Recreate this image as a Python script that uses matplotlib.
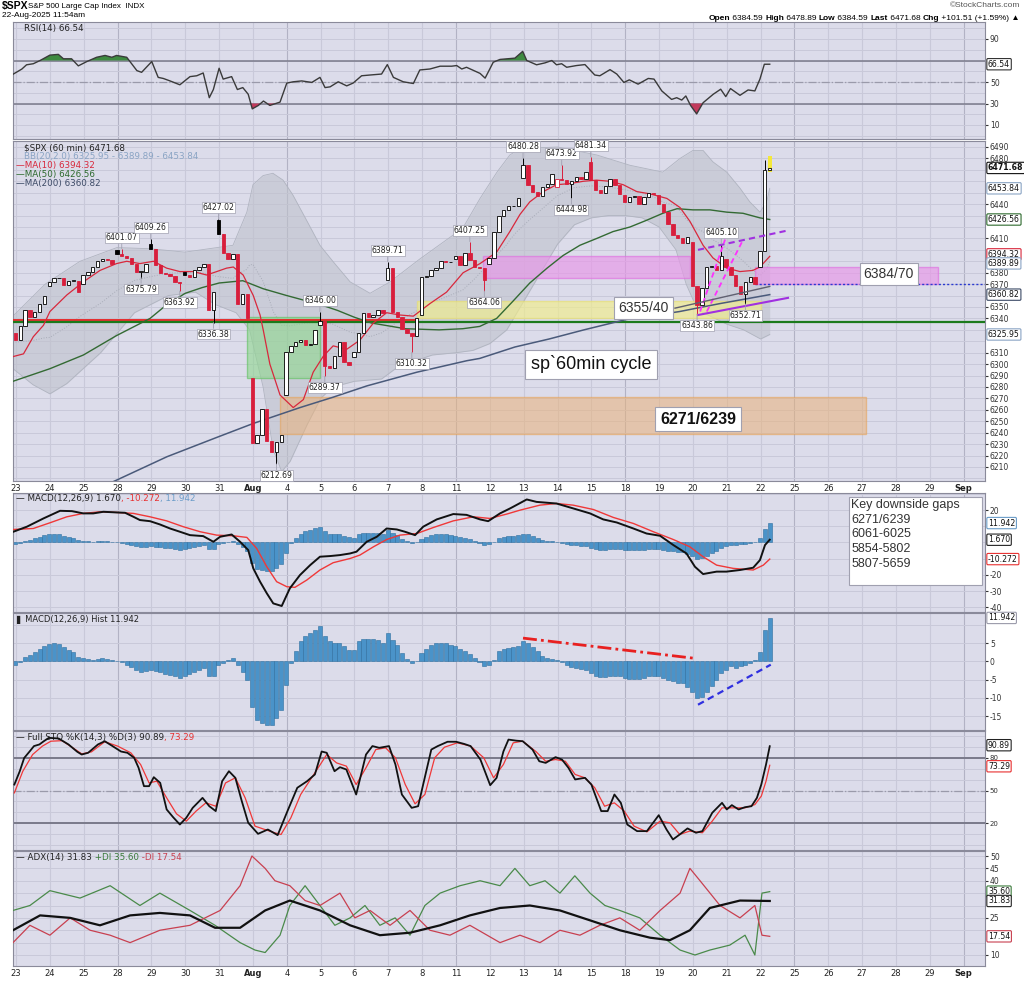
import matplotlib
matplotlib.use('Agg')
import matplotlib.pyplot as plt
from matplotlib.patches import Rectangle
from matplotlib.text import Annotation
import numpy as np

plt.rcParams['font.family'] = ['DejaVu Sans']

# ---------------- data ----------------
day_labels = ['23', '24', '25', '28', '29', '30', '31', 'Aug', '4', '5', '6', '7', '8', '11',
              '12', '13', '14', '15', '18', '19', '20', '21', '22', '25', '26', '27', '28', '29', 'Sep']
week_starts = [3, 8, 13, 18, 23, 28]

# hourly candles: open of the first bar of each day, then the 7 hourly closes
day_open = [6327, 6368, 6370, 6400, 6405, 6381, 6426, 6288, 6273, 6334, 6306, 6374, 6343,
            6392, 6388, 6463, 6455, 6477, 6448, 6448, 6407, 6392, 6384.59]
closes = [
    [6321, 6333, 6347, 6341, 6346, 6353, 6360],   # Jul 23
    [6372, 6375, 6375, 6369, 6373, 6373, 6363],   # Jul 24
    [6378, 6381, 6385, 6390, 6392, 6391, 6388],   # Jul 25
    [6396, 6395, 6393, 6388, 6381, 6381, 6388],   # Jul 28
    [6401, 6387, 6380, 6379, 6377, 6372, 6371],   # Jul 29
    [6378, 6376, 6382, 6385, 6388, 6347, 6363],   # Jul 30
    [6414, 6397, 6392, 6396, 6353, 6361, 6340],   # Jul 31
    [6231, 6238, 6261, 6233, 6223, 6232, 6238],   # Aug 1
    [6311, 6316, 6319, 6321, 6317, 6318, 6330],   # Aug 4
    [6338, 6298, 6297, 6307, 6319, 6302, 6299],   # Aug 5
    [6311, 6327, 6345, 6341, 6343, 6347, 6345],   # Aug 6
    [6384, 6346, 6341, 6331, 6327, 6325, 6340],   # Aug 7
    [6376, 6377, 6382, 6384, 6390, 6389, 6389],   # Aug 8
    [6395, 6387, 6397, 6391, 6385, 6384, 6374],   # Aug 11
    [6393, 6416, 6430, 6435, 6438, 6438, 6445],   # Aug 12
    [6474, 6457, 6451, 6447, 6455, 6458, 6466],   # Aug 13
    [6462, 6461, 6458, 6460, 6464, 6462, 6468],   # Aug 14
    [6461, 6452, 6450, 6456, 6462, 6457, 6449],   # Aug 15
    [6442, 6446, 6447, 6440, 6446, 6450, 6449],   # Aug 18
    [6440, 6433, 6423, 6413, 6410, 6406, 6411],   # Aug 19
    [6368, 6352, 6367, 6385, 6386, 6382, 6395],   # Aug 20
    [6385, 6378, 6368, 6361, 6372, 6376, 6370],   # Aug 21
    [6399, 6470, 6471.68],                        # Aug 22
]
# labelled highs / lows: (day, hour, value, kind)
extremes = [(3, 1, 6401.07, 'h'), (4, 0, 6409.26, 'h'), (3, 5, 6375.79, 'l'), (4, 6, 6363.92, 'l'),
            (6, 0, 6427.02, 'h'), (5, 6, 6336.38, 'l'), (9, 0, 6346.00, 'h'), (9, 1, 6289.37, 'l'),
            (7, 5, 6212.69, 'l'), (11, 0, 6389.71, 'h'), (11, 5, 6310.32, 'l'), (13, 3, 6407.25, 'h'),
            (13, 6, 6364.06, 'l'), (15, 0, 6480.28, 'h'), (16, 1, 6473.92, 'h'), (16, 3, 6444.98, 'l'),
            (17, 0, 6481.34, 'h'), (20, 6, 6405.10, 'h'), (20, 1, 6343.86, 'l'), (21, 4, 6352.71, 'l')]
session_high = (22, 1, 6478.89)

# overlay lines, (day position, value)
ma10 = [(-0.09, 6306.6), (0.22, 6309), (0.51, 6324), (0.81, 6334), (1.0, 6346), (1.5, 6360.5),
        (1.99, 6372), (2.48, 6382), (2.97, 6388), (3.27, 6390), (3.66, 6388), (4.06, 6390),
        (4.45, 6384), (4.84, 6381), (5.24, 6381), (5.63, 6378), (5.93, 6381), (6.22, 6384),
        (6.42, 6385), (6.71, 6378), (7.01, 6360), (7.21, 6343), (7.31, 6329), (7.5, 6300),
        (7.8, 6273), (8.19, 6262), (8.49, 6269), (8.78, 6293), (9.08, 6307), (9.37, 6316),
        (9.77, 6313), (10.16, 6321), (10.56, 6336), (10.95, 6345), (11.34, 6343), (11.74, 6342),
        (12.23, 6353), (12.72, 6363), (13.21, 6380), (13.71, 6388), (14.2, 6398), (14.59, 6416),
        (14.89, 6431), (15.18, 6442), (15.58, 6451), (15.97, 6457), (16.37, 6458), (16.76, 6460),
        (17.15, 6461), (17.55, 6460), (17.94, 6457), (18.34, 6451), (18.73, 6449), (19.23, 6445),
        (19.62, 6437), (19.91, 6425), (20.3, 6404), (20.59, 6393), (21.0, 6384), (21.39, 6381),
        (21.77, 6382), (21.98, 6385), (22.27, 6394.32)]
ma50 = [(-0.09, 6285), (1.0, 6296), (1.99, 6308), (2.97, 6325), (3.96, 6340), (4.45, 6352),
        (5.0, 6362), (5.5, 6367), (6.0, 6371), (6.7, 6373), (7.3, 6366), (8.0, 6360), (8.5, 6356),
        (9.0, 6352), (9.5, 6347), (10.0, 6341), (10.5, 6336), (11.5, 6331), (12.5, 6330),
        (13.2, 6331), (13.7, 6333), (14.2, 6340), (14.68, 6355), (15.18, 6371), (15.69, 6384),
        (16.16, 6395), (16.66, 6404), (17.16, 6410), (17.64, 6416), (18.14, 6420), (18.64, 6426),
        (19.11, 6432), (19.53, 6436), (20.0, 6435), (20.5, 6435), (21.0, 6433), (21.48, 6432),
        (21.98, 6428), (22.27, 6426.56)]
ma200 = [(1.99, 6184), (2.86, 6197), (4.46, 6219), (5.94, 6236), (7.0, 6248), (8.39, 6262),
         (9.36, 6271), (10.37, 6281), (11.85, 6293), (13.32, 6303), (13.7, 6305), (14.74, 6315),
         (15.75, 6322), (16.78, 6330), (18.02, 6339), (19.6, 6346), (20.8, 6353), (22.27, 6360.82)]
bb_upper = [(-0.09, 6342), (0.86, 6370), (1.89, 6390), (2.98, 6402), (3.96, 6401), (4.99, 6398),
            (5.94, 6402), (6.41, 6404), (6.82, 6433), (7.0, 6457), (7.3, 6465), (7.59, 6467),
            (7.89, 6461), (8.18, 6448), (8.6, 6425), (8.98, 6404), (9.36, 6390), (9.87, 6372),
            (10.46, 6362), (11.05, 6372), (11.93, 6392), (13.2, 6419), (13.71, 6445), (14.21, 6468),
            (14.59, 6483), (14.8, 6487), (15.18, 6489), (16.0, 6490), (17.16, 6483), (18.14, 6474),
            (19.11, 6468), (19.62, 6480), (20.0, 6487), (20.3, 6487), (20.59, 6477), (21.0, 6468),
            (21.39, 6454), (21.68, 6442), (21.98, 6433), (22.18, 6442), (22.27, 6453.84)]
bb_lower = [(-0.09, 6296), (0.5, 6282), (1.0, 6274), (1.5, 6283), (2.5, 6310), (3.5, 6345),
            (4.5, 6360), (5.3, 6363), (5.9, 6352), (6.5, 6345), (6.9, 6330), (7.3, 6280),
            (7.6, 6225), (7.85, 6206), (8.1, 6215), (8.6, 6247), (9.0, 6270), (9.36, 6280),
            (10.0, 6285), (10.8, 6287), (11.3, 6298), (12.3, 6308), (13.0, 6310), (13.5, 6312),
            (14.0, 6318), (14.5, 6330), (15.0, 6355), (15.5, 6380), (16.0, 6405), (16.5, 6422),
            (17.0, 6428), (17.5, 6430), (18.0, 6430), (18.5, 6428), (19.0, 6420), (19.5, 6400),
            (19.8, 6370), (20.1, 6350), (20.3, 6345), (21.0, 6335), (21.5, 6330), (22.0, 6322),
            (22.27, 6325.95)]

rsi = [(-0.08, 57.4), (0.17, 62), (0.31, 66), (0.51, 67), (0.71, 70), (1.0, 75), (1.25, 75.7),
       (1.4, 71.6), (1.64, 71.6), (1.84, 65), (2.09, 69), (2.38, 73), (2.63, 74.7), (2.83, 73),
       (2.97, 74.7), (3.27, 73), (3.57, 60.6), (3.71, 59), (4.01, 69), (4.2, 54.3), (4.35, 53.3),
       (4.55, 51), (4.84, 47.4), (5.14, 55), (5.34, 55.8), (5.53, 58.4), (5.71, 35.4), (5.83, 43),
       (6.0, 62.8), (6.12, 52.7), (6.37, 55), (6.54, 43), (6.7, 44.8), (6.86, 38.6), (6.98, 25),
       (7.16, 28.2), (7.31, 32.3), (7.5, 28.2), (7.8, 31.3), (8.0, 49), (8.19, 50.2), (8.44, 51),
       (8.74, 49.6), (8.98, 54.3), (9.13, 44.8), (9.28, 45.5), (9.52, 50.2), (9.77, 46.4),
       (9.96, 49), (10.21, 55.8), (10.46, 56.5), (10.8, 57.4), (10.97, 66.2), (11.15, 54.3),
       (11.44, 50.2), (11.74, 48.6), (11.93, 61.2), (12.23, 62.1), (12.53, 64.7), (12.87, 64.7),
       (13.02, 65.3), (13.17, 62.1), (13.31, 63.7), (13.71, 58), (13.86, 53.6), (14.1, 68.4),
       (14.3, 71), (14.74, 72.2), (14.97, 78.5), (15.09, 70), (15.38, 66), (15.63, 67.8),
       (15.83, 70), (15.97, 66), (16.12, 67), (16.27, 63.7), (16.56, 65.3), (16.81, 66.2),
       (17.1, 56.5), (17.25, 55.8), (17.55, 61.5), (17.75, 57.4), (17.96, 49.6), (18.12, 52),
       (18.38, 48), (18.68, 53.3), (18.85, 52.7), (19.08, 41.7), (19.37, 33.8), (19.52, 35.4),
       (19.67, 33.2), (19.79, 37), (19.93, 28.2), (20.11, 20.3), (20.3, 30.7), (20.6, 38.6),
       (20.82, 43.3), (20.97, 36.4), (21.11, 43.9), (21.39, 37.6), (21.63, 42.6), (21.83, 41.7),
       (21.98, 52.7), (22.11, 66.5), (22.27, 66.54)]

macd = [(-0.08, 6.6), (0.32, 9.7), (0.81, 14.8), (1.3, 19.5), (1.65, 19.3), (1.99, 17.9),
        (2.28, 17.9), (2.58, 18.9), (2.97, 18.5), (3.22, 18.3), (3.47, 15.8), (3.66, 13.8),
        (3.96, 13.1), (4.25, 11.1), (4.55, 8.6), (4.84, 6.6), (5.14, 4.5), (5.53, 3.9), (5.83, 0.4),
        (6.03, 3.5), (6.37, 4.9), (6.62, 0.4), (6.86, -4.7), (7.01, -16), (7.21, -24.2),
        (7.41, -31.4), (7.6, -37.6), (7.85, -39.2), (8.09, -28.3), (8.39, -20.1), (8.69, -14),
        (8.98, -8.8), (9.28, -8.4), (9.57, -7.8), (9.87, -6.8), (10.06, -5.7), (10.36, 0.4),
        (10.66, 3.5), (10.95, 8.6), (11.25, 8), (11.49, 6.6), (11.79, 4.5), (12.03, 9.7),
        (12.43, 14.2), (12.92, 17.5), (13.31, 17), (13.71, 14.2), (13.95, 13.1), (14.3, 17.9),
        (14.59, 20.9), (14.69, 22), (15.09, 26.5), (15.38, 25), (15.97, 24), (16.46, 21),
        (16.96, 17.9), (17.35, 14.2), (17.75, 12.3), (18.24, 8.6), (18.63, 5.5), (19.03, 4.1),
        (19.42, -1.6), (19.81, -6.8), (20.06, -15), (20.3, -19.5), (20.7, -18), (20.99, -18),
        (21.39, -17), (21.78, -15.6), (21.98, -10.9), (22.13, -1.6), (22.27, 1.67)]
signal = [(-0.08, 8), (0.51, 8.6), (1.0, 12.1), (1.5, 15.8), (1.99, 17.9), (2.48, 18.9),
          (2.97, 18.5), (3.47, 17.9), (3.96, 15.8), (4.45, 13.3), (4.94, 9.7), (5.44, 6.6),
          (5.93, 4.5), (6.42, 4.1), (6.82, 3.1), (7.11, -3.7), (7.41, -15), (7.7, -24.2),
          (8.0, -27.3), (8.24, -27.7), (8.59, -23.2), (8.98, -17), (9.37, -12.5), (9.87, -9.9),
          (10.16, -7.8), (10.56, -2.7), (10.95, 1.8), (11.34, 4.5), (11.84, 5.5), (12.33, 9.2),
          (12.92, 13.3), (13.51, 15.8), (14.0, 14.8), (14.5, 17.5), (14.89, 19.9), (15.48, 23),
          (15.97, 24), (16.46, 23), (17.06, 20.3), (17.65, 15.4), (18.24, 11.7), (18.83, 6.6),
          (19.42, 1.8), (19.91, -2.7), (20.3, -8.8), (20.7, -14), (21.19, -16), (21.78, -17),
          (22.08, -14), (22.27, -10.272)]
# MACD histogram, one value per hourly bar
hist = [-1.0, -0.3, 1.1, 1.8, 2.5, 3.4, 4.3, 4.9, 5.0, 4.9,
        3.9, 3.2, 2.5, 1.2, 0.8, 0.6, 0.5, 0.7, 0.8, 0.6,
        0.5, 0.2, -0.3, -0.9, -1.6, -2.3, -3.0, -2.6, -2.3, -2.6,
        -3.0, -3.4, -3.7, -4.1, -4.6, -3.9, -3.4, -3.0, -2.3, -1.8,
        -4.1, -4.1, -0.9, -0.5, 0.5, 0.9, -0.9, -2.8, -5.0, -12.4,
        -16.1, -17.0, -17.4, -17.4, -15.6, -13.3, -6.4, -0.5, 2.8, 5.5,
        6.9, 7.8, 8.7, 9.6, 6.9, 5.5, 5.0, 5.0, 4.1, 3.2,
        3.0, 5.5, 6.1, 6.1, 6.1, 6.0, 5.0, 7.8, 6.0, 4.6,
        2.3, 0.6, -0.5, 0.0, 2.3, 3.4, 4.6, 5.0, 5.0, 5.0,
        4.6, 4.1, 3.4, 2.8, 2.1, 0.9, -0.3, -1.4, -0.9, 0.5,
        2.8, 3.4, 3.7, 3.9, 4.3, 5.5, 5.0, 3.9, 2.8, 1.6,
        0.9, 0.6, 0.3, -0.3, -0.9, -1.6, -1.8, -2.1, -2.3, -3.2,
        -3.9, -4.4, -4.4, -4.1, -3.9, -3.9, -4.6, -4.9, -4.9, -4.8,
        -4.6, -4.1, -3.9, -4.1, -4.6, -5.2, -5.5, -5.8, -6.0, -7.1,
        -8.3, -10.1, -9.8, -8.3, -6.7, -5.0, -3.2, -2.3, -1.4, -1.8,
        -1.2, -0.9, -0.5, 0.5, 2.5, 8.5, 11.942]

sto_k = [(-0.05, 55.5), (0.11, 67.8), (0.24, 80), (0.4, 86), (0.53, 91), (0.69, 92.5), (0.82, 95.5),
         (0.97, 98.6), (1.26, 98), (1.55, 92.5), (1.81, 85.7), (1.94, 83.2), (2.13, 84.8),
         (2.42, 92.5), (2.62, 95.5), (2.85, 91), (3.1, 86), (3.29, 84.8), (3.49, 80.2), (3.62, 71),
         (3.78, 54), (3.93, 54), (4.07, 62.3), (4.26, 57), (4.45, 32.5), (4.64, 25.4), (4.84, 18.6),
         (5.03, 24.8), (5.22, 34), (5.51, 43.2), (5.71, 35.5), (5.9, 31), (6.09, 58.6), (6.29, 67.8),
         (6.48, 61.7), (6.67, 40.2), (6.86, 20.2), (7.15, 10), (7.44, 14), (7.73, 8.8), (8.02, 31),
         (8.31, 52.5), (8.6, 58.6), (8.83, 64.8), (9.03, 86), (9.18, 84.8), (9.41, 67.8),
         (9.57, 71.5), (9.76, 69.4), (10.05, 46.3), (10.34, 83.2), (10.53, 91), (10.73, 89.4),
         (11.02, 91), (11.21, 74), (11.4, 46.3), (11.69, 34), (11.88, 35.5), (12.27, 87.8),
         (12.46, 91), (12.75, 95), (13.0, 95), (13.24, 93), (13.43, 91), (13.72, 78.6),
         (14.01, 54.9), (14.2, 61.7), (14.4, 86), (14.55, 97), (14.78, 96), (14.97, 95.5),
         (15.26, 87.8), (15.46, 77), (15.65, 75.5), (15.94, 80.8), (16.13, 78.6), (16.32, 71),
         (16.52, 60.2), (16.81, 61.7), (17.0, 55.5), (17.29, 31), (17.48, 31), (17.68, 46.3),
         (17.87, 38.6), (18.06, 18.6), (18.35, 12.5), (18.64, 12.5), (18.99, 27.2), (19.22, 14),
         (19.41, 4.8), (19.61, 9.4), (19.84, 15), (20.09, 11), (20.28, 12.5), (20.57, 29.4),
         (20.86, 38.6), (21.0, 32.5), (21.15, 36.5), (21.35, 32.5), (21.54, 34.6), (21.73, 35.5),
         (21.89, 43.2), (22.02, 55.5), (22.16, 74), (22.27, 90.89)]
sto_d = [(-0.05, 47.8), (0.2, 67.8), (0.49, 83.2), (0.78, 91), (1.03, 95.5), (1.36, 96), (1.65, 90),
         (1.94, 83.8), (2.23, 85.7), (2.62, 95), (3.0, 91), (3.39, 84.8), (3.68, 74), (3.93, 57),
         (4.16, 58.6), (4.45, 43.2), (4.74, 28.5), (5.03, 21.7), (5.32, 31), (5.61, 38.6),
         (5.9, 35.5), (6.19, 57), (6.48, 61.7), (6.77, 43.2), (7.06, 17.1), (7.35, 14), (7.64, 11),
         (7.83, 9.4), (8.12, 24.8), (8.41, 46.3), (8.7, 60.2), (8.99, 74), (9.18, 83.2),
         (9.47, 75.5), (9.76, 72.5), (10.05, 55.5), (10.34, 71), (10.63, 87.8), (10.92, 89.4),
         (11.21, 80.2), (11.5, 55.5), (11.79, 37.7), (12.08, 46.3), (12.37, 80.2), (12.66, 90),
         (13.04, 94), (13.43, 91), (13.82, 80.2), (14.11, 61.7), (14.4, 74), (14.69, 94),
         (14.97, 95.5), (15.36, 86), (15.65, 77), (15.94, 78.6), (16.23, 77), (16.52, 64.8),
         (16.81, 61.7), (17.1, 52.5), (17.39, 35.5), (17.68, 38.6), (17.97, 31), (18.26, 17.1),
         (18.64, 11.8), (19.03, 21.7), (19.32, 20.2), (19.61, 9.4), (19.9, 12.5), (20.28, 11),
         (20.57, 21.7), (20.86, 34), (21.15, 34), (21.54, 34), (21.83, 37), (22.02, 44.8),
         (22.16, 58.6), (22.27, 73.29)]

adx = [(-0.09, 20), (0.71, 26), (1.6, 25), (2.48, 22), (3.37, 26), (4.25, 27), (5.14, 26),
       (5.88, 21), (6.62, 21), (7.36, 28), (8.09, 32), (8.98, 28), (9.87, 22), (10.75, 18),
       (11.64, 19), (12.53, 22), (13.41, 26), (14.3, 29), (15.18, 30), (16.07, 28), (16.96, 24),
       (17.84, 20), (18.73, 17), (19.32, 16), (19.91, 20), (20.5, 29), (21.39, 32), (22.27, 31.83)]
plus_di = [(-0.09, 28), (0.41, 30), (1.0, 36), (1.89, 33), (2.78, 38), (3.66, 30), (4.25, 35),
           (5.14, 28), (5.88, 22), (6.62, 15), (7.06, 12), (7.36, 11), (7.8, 18), (8.09, 30),
           (8.54, 38), (8.98, 30), (9.42, 22), (9.87, 25), (10.31, 30), (10.75, 22), (11.2, 25),
           (11.64, 18), (12.08, 30), (12.53, 35), (13.12, 38), (13.71, 40), (14.3, 38), (14.74, 45),
           (15.18, 38), (15.63, 40), (16.07, 35), (16.51, 42), (16.96, 35), (17.4, 30), (17.84, 28),
           (18.43, 25), (19.03, 18), (19.62, 12), (20.06, 10), (20.5, 12), (21.09, 14), (21.54, 18),
           (21.83, 10), (22.04, 35), (22.27, 35.6)]
minus_di = [(-0.09, 15), (0.41, 22), (1.0, 18), (1.6, 25), (2.19, 20), (2.78, 18), (3.37, 15),
            (4.25, 20), (5.14, 22), (6.03, 28), (6.62, 38), (6.97, 50), (7.36, 45), (7.65, 40),
            (8.09, 38), (8.54, 32), (8.98, 30), (9.57, 35), (10.01, 25), (10.46, 28), (11.05, 22),
            (11.64, 28), (12.23, 20), (12.82, 18), (13.41, 22), (14.3, 15), (14.89, 18), (15.48, 15),
            (16.07, 20), (16.66, 18), (17.25, 22), (17.84, 25), (18.43, 20), (19.03, 28), (19.62, 35),
            (19.91, 45), (20.21, 40), (20.8, 30), (21.39, 25), (21.83, 30), (22.04, 18), (22.27, 17.54)]

gaps_text = ['Key downside gaps', '6271/6239', '6061-6025', '5854-5802', '5807-5659']

# ---------------- layout ----------------
W, H = 1024, 983
L, R = 13, 985
X0, X1 = -0.09, 28.63
BG = '#dcdcea'
GRID = '#c9c9d9'
WEEK = '#b2b2c4'
RED = '#d81e3c'
BLUE_BAR = '#4a93c9'
TXT = ['Liberation Sans', 'DejaVu Sans']

fig = plt.figure(figsize=(W / 100, H / 100), dpi=100)
fig.patch.set_facecolor('white')
tags = {}


def panel(top, bottom, ref1, ref2, ticks, grid_step, labels=False):
    ax = fig.add_axes([L / W, 1 - bottom / H, (R - L) / W, (bottom - top) / H])
    ax.set_facecolor(BG)
    (v1, p1), (v2, p2) = ref1, ref2
    k = (v1 - v2) / (p2 - p1)
    lo, hi = v1 - (bottom - p1) * k, v1 + (p1 - top) * k
    ax.set_ylim(lo, hi)
    ax.set_xlim(X0, X1)
    ax.units_per_px = k
    ax.all_ticks = ticks
    tags[ax] = []
    for d in range(len(day_labels)):
        ax.axvline(d, color=WEEK if d in week_starts else GRID, lw=0.8, zorder=0)
    for v in np.arange(np.ceil(lo / grid_step) * grid_step, hi, grid_step):
        ax.axhline(v, color=GRID, lw=0.7, zorder=0)
    ax.yaxis.tick_right()
    ax.tick_params(axis='y', labelsize=5.5, length=2, pad=1.5, colors='#333333')
    ax.set_xticks(range(len(day_labels)))
    if labels:
        ax.set_xticklabels(day_labels)
        for lab in ax.get_xticklabels():
            if lab.get_text() in ('Aug', 'Sep'):
                lab.set_fontweight('bold')
        ax.tick_params(axis='x', labelsize=6, length=0, pad=2, colors='#222222')
    else:
        ax.set_xticklabels([])
        ax.tick_params(axis='x', length=0)
    for s in ax.spines.values():
        s.set_color('#8a8a9a')
        s.set_linewidth(0.8)
    return ax


def finish_ticks(ax, gap=8):
    # tick labels that sit under a value tag are hidden, as on the original
    k = ax.units_per_px
    shown = [t for t in ax.all_ticks if all(abs(t - v) / k > gap for v in tags[ax])]
    ax.set_yticks(shown)
    ax.set_yticklabels([str(t) for t in shown])


def legend(ax, parts, dx, dy, size=6.3):
    t = ax.annotate(parts[0][0], xy=(0, 1), xycoords='axes fraction', xytext=(dx, -dy),
                    textcoords='offset pixels', ha='left', va='top', fontsize=size, color=parts[0][1])
    for s, c in parts[1:]:
        t = ax.annotate(s, xy=(1, 0), xycoords=t, ha='left', va='bottom', fontsize=size, color=c)


def tag(ax, v, s, ec, bold=False, nudge=0):
    tags[ax].append(v)
    ax.annotate(s, xy=(1, v), xycoords=('axes fraction', 'data'), xytext=(3, nudge),
                textcoords='offset pixels', ha='left', va='center', fontsize=5.6, color='#111111',
                fontweight='bold' if bold else 'normal', annotation_clip=False, zorder=10,
                bbox=dict(boxstyle='round,pad=0.15', fc='white', ec=ec, lw=0.8))


def xy(series):
    a = np.array(series, dtype=float)
    return a[:, 0], a[:, 1]


# ---------------- bars ----------------
bx, bo, bc, bh, bl = [], [], [], [], []
for d, (op, cl) in enumerate(zip(day_open, closes)):
    o = op
    for h, c in enumerate(cl):
        bx.append(d + h / 7 - 0.02)
        bo.append(o)
        bc.append(c)
        bh.append(max(o, c))
        bl.append(min(o, c))
        o = c
ext_idx = {}
for d, h, v, kind in extremes:
    i = sum(len(c) for c in closes[:d]) + h
    ext_idx[i] = (v, kind)
    if kind == 'h':
        bh[i] = max(bh[i], v)
    else:
        bl[i] = min(bl[i], v)
i_hi = sum(len(c) for c in closes[:session_high[0]]) + session_high[1]
bh[i_hi] = session_high[2]
bx = np.array(bx)

# ---------------- RSI ----------------
ax_rsi = panel(22, 139, (90, 39), (10, 125), [10, 30, 50, 70, 90], 10)
rx, ry = xy(rsi)
ax_rsi.axhline(70, color='#7a7a8a', lw=1.1, zorder=1)
ax_rsi.axhline(30, color='#7a7a8a', lw=1.1, zorder=1)
ax_rsi.axhline(50, color='#9a9aaa', lw=0.9, ls='-.', zorder=1)
ax_rsi.fill_between(rx, ry, 70, where=ry > 70, interpolate=True, color='#3e8a40', lw=0, zorder=2)
ax_rsi.fill_between(rx, ry, 30, where=ry < 30, interpolate=True, color='#c23a5c', lw=0, zorder=2)
ax_rsi.plot(rx, ry, color='#3a3a3a', lw=1.0, zorder=3)
legend(ax_rsi, [('RSI(14) 66.54', '#222222')], 11, 2)
tag(ax_rsi, 66.54, '66.54', '#333333')

# ---------------- price ----------------
ax = panel(141, 481, (6490, 147), (6210, 467), list(range(6210, 6491, 10)), 10, labels=True)
ux, uy = xy(bb_upper)
lx, ly = xy(bb_lower)
grid_t = np.union1d(ux, lx)
up_i = np.interp(grid_t, ux, uy)
lo_i = np.interp(grid_t, lx, ly)
ax.fill_between(grid_t, lo_i, up_i, color='#bfc2cc', alpha=0.6, lw=0, zorder=1)
ax.plot(grid_t, up_i, color='#b0b4c0', lw=0.6, zorder=1)
ax.plot(grid_t, lo_i, color='#b0b4c0', lw=0.6, zorder=1)
ax.plot(grid_t, (up_i + lo_i) / 2, color='#a8acb8', lw=0.7, ls=':', zorder=1)

# zones
ax.add_patch(Rectangle((6.82, 6288), 8.98 - 6.82, 6341.5 - 6288, fc='#8ed88e', ec='#5cc05c',
                       alpha=0.6, lw=1, zorder=2))
ax.add_patch(Rectangle((7.80, 6239), 25.11 - 7.80, 6271 - 6239, fc='#eab27a', ec='#e8a050',
                       alpha=0.55, lw=1, zorder=2))
ax.add_patch(Rectangle((11.85, 6340), 22.01 - 11.85, 6355 - 6340, fc='#f2ee8a', ec='#e8e070',
                       alpha=0.65, lw=1, zorder=2))
ax.add_patch(Rectangle((13.80, 6375), 19.91 - 13.80, 6395 - 6375, fc='#e896e8', ec='#e070e0',
                       alpha=0.65, lw=1, zorder=2))
ax.add_patch(Rectangle((21.83, 6370), 27.24 - 21.83, 6385 - 6370, fc='#e896e8', ec='#e070e0',
                       alpha=0.65, lw=1, zorder=2))
ax.plot([21.83, X1], [6370, 6370], color='#2a3ad0', lw=1, ls=(0, (1.5, 1.5)), zorder=3)
ax.plot([X0, 11.85], [6338.5, 6338.5], color='#e82020', lw=1.3, zorder=3)
ax.axhline(6337, color='#1c7a1c', lw=1.6, zorder=3)

for series, col, lw in ((ma200, '#4a5a7a', 1.1), (ma50, '#336a33', 1.0), (ma10, '#d8283c', 0.9)):
    sx, sy = xy(series)
    ax.plot(sx, sy, color=col, lw=lw, zorder=4)

# candles
for i in range(len(bx)):
    o, c = bo[i], bc[i]
    prev = bc[i - 1] if i > 0 else o
    col = RED if c < prev else 'black'
    face = col if c < o else 'white'
    ax.vlines(bx[i], bl[i], bh[i], color=col, lw=0.7, zorder=5)
    ax.bar(bx[i], max(abs(c - o), 0.6), bottom=min(o, c), width=0.1, color=face, edgecolor=col,
           lw=0.6, zorder=6)
ax.add_patch(Rectangle((bx[-1] - 0.06, 6468), 0.12, 14, fc='#f4e83a', ec='none', zorder=5))

for i, (v, kind) in ext_idx.items():
    off = 7 if kind == 'h' else -7
    ax.annotate(f'{v:.2f}', xy=(bx[i], v), xytext=(0, off), textcoords='offset pixels',
                ha='center', va='bottom' if kind == 'h' else 'top', fontsize=5.6, color='#222222',
                zorder=8, bbox=dict(boxstyle='square,pad=0.12', fc='white', ec='#a0a0b0', lw=0.5),
                arrowprops=dict(arrowstyle='-', color='#a0a0b0', lw=0.6, shrinkA=0, shrinkB=0))

# trend lines
ax.plot([20.15, 22.81], [6343, 6358], color='#a030e0', lw=1.5, zorder=7)
ax.plot([20.15, 22.81], [6400, 6417], color='#a030e0', lw=1.5, ls=(0, (3, 2)), zorder=7)
ax.plot([20.21, 20.95], [6346, 6409], color='#ff30ff', lw=1.3, ls=(0, (3, 2)), zorder=7)
ax.plot([20.41, 21.45], [6346, 6407], color='#ff30ff', lw=1.3, ls=(0, (3, 2)), zorder=7)
ax.plot([19.47, 22.27], [6349, 6368], color='#606070', lw=1.0, zorder=7)

box = dict(boxstyle='square,pad=0.3', fc='white', ec='#a0a0b0', lw=0.8)
ax.text(18.55, 6349, '6355/40', fontsize=10, family=TXT, ha='center', va='center', color='#333333',
        bbox=box, zorder=9)
ax.text(25.79, 6379, '6384/70', fontsize=10, family=TXT, ha='center', va='center', color='#333333',
        bbox=box, zorder=9)
ax.text(16.99, 6300, 'sp`60min cycle', fontsize=13, family=TXT, ha='center', va='center',
        color='#111111', bbox=box, zorder=9)
ax.text(20.15, 6252, '6271/6239', fontsize=11.5, family=TXT, fontweight='bold', ha='center',
        va='center', color='#111111', bbox=box, zorder=9)

legend(ax, [('$SPX (60 min) 6471.68', '#222222')], 11, 2)
legend(ax, [('BB(20,2.0) 6325.95 - 6389.89 - 6453.84', '#8aa4c4')], 11, 11)
legend(ax, [('\u2014MA(10) 6394.32', '#d8283c')], 3, 20)
legend(ax, [('\u2014MA(50) 6426.56', '#2d6a2d')], 3, 29)
legend(ax, [('\u2014MA(200) 6360.82', '#3c4a66')], 3, 38)

tag(ax, 6394.32, '6394.32', '#d8283c', nudge=2)
tag(ax, 6389.89, '6389.89', '#8aa4c4', nudge=-2)
tag(ax, 6426.56, '6426.56', '#2d6a2d')
tag(ax, 6453.84, '6453.84', '#8aa4c4')
tag(ax, 6360.82, '6360.82', '#3c4a66')
tag(ax, 6325.95, '6325.95', '#8aa4c4')
tag(ax, 6471.68, '6471.68', '#111111', bold=True)

# ---------------- MACD ----------------
ax_m = panel(493, 612, (20, 510), (-40, 607.3), [-40, -30, -20, -10, 0, 10, 20], 10)
hb = np.array(hist)
ax_m.bar(bx, hb, width=0.12, color=BLUE_BAR, edgecolor='#2f6f9f', lw=0.4, zorder=2)
sx, sy = xy(signal)
ax_m.plot(sx, sy, color='#f03838', lw=1.0, zorder=3)
mx, my = xy(macd)
ax_m.plot(mx, my, color='#111111', lw=1.4, zorder=4)
legend(ax_m, [('\u2014 MACD(12,26,9) 1.670', '#222222'), (', -10.272', '#e83030'),
              (', 11.942', '#6a9cc8')], 3, 1)
tag(ax_m, 11.942, '11.942', '#6a9cc8')
tag(ax_m, 1.670, '1.670', '#222222')
tag(ax_m, -10.272, '-10.272', '#e83030')
ax_m.add_patch(Rectangle((24.61, -26.4), 28.54 - 24.61, 28 - -26.4, fc='white', ec='#a0a0b0',
                         lw=0.8, zorder=8))
ax_m.text(24.68, 27, '\n'.join(gaps_text), fontsize=9, family=TXT, ha='left', va='top',
          color='#333333', linespacing=1.32, zorder=9)

# ---------------- MACD histogram ----------------
ax_h = panel(613, 730, (10, 625), (-15, 716), [-15, -10, -5, 0, 5, 10], 5)
ax_h.bar(bx, hb, width=0.12, color=BLUE_BAR, edgecolor='#2f6f9f', lw=0.4, zorder=2)
ax_h.plot([14.98, 20.0], [6.4, 0.9], color='#e82020', lw=2, ls=(0, (5, 1.5, 1, 1.5)), zorder=4)
ax_h.plot([20.15, 22.30], [-11.9, -0.9], color='#3030e0', lw=1.6, ls=(0, (3, 2)), zorder=4)
legend(ax_h, [('\u258c MACD(12,26,9) Hist 11.942', '#222222')], 3, 2, size=6)
tag(ax_h, 11.942, '11.942', '#9a9aaa')

# ---------------- Full STO ----------------
ax_s = panel(731, 850, (80, 758), (20, 823), [20, 50, 80], 10)
ax_s.axhline(80, color='#7a7a8a', lw=1.4, zorder=1)
ax_s.axhline(20, color='#7a7a8a', lw=1.4, zorder=1)
ax_s.axhline(50, color='#9a9aaa', lw=0.9, ls='-.', zorder=1)
dx_, dy_ = xy(sto_d)
ax_s.plot(dx_, dy_, color='#f03838', lw=0.9, zorder=3)
kx, ky = xy(sto_k)
ax_s.plot(kx, ky, color='#111111', lw=1.3, zorder=4)
legend(ax_s, [('\u2014 Full STO %K(14,3) %D(3) 90.89', '#222222'), (', 73.29', '#e83030')], 3, 2)
tag(ax_s, 90.89, '90.89', '#222222', nudge=1)
tag(ax_s, 73.29, '73.29', '#e83030', nudge=-1)

# ---------------- ADX ----------------
ax_a = panel(851, 966, (50, 856), (10, 955), [10, 15, 20, 25, 30, 40, 45, 50], 5, labels=True)
px_, py_ = xy(plus_di)
ax_a.plot(px_, py_, color='#4a8a4a', lw=0.9, zorder=3)
nx, ny = xy(minus_di)
ax_a.plot(nx, ny, color='#c84050', lw=0.9, zorder=3)
ax_x, ax_y = xy(adx)
ax_a.plot(ax_x, ax_y, color='#111111', lw=1.6, zorder=4)
legend(ax_a, [('\u2014 ADX(14) 31.83', '#222222'), (' +DI 35.60', '#3a7a3a'),
              (' -DI 17.54', '#c84050')], 3, 2)
tag(ax_a, 35.60, '35.60', '#3a7a3a')
tag(ax_a, 31.83, '31.83', '#222222')
tag(ax_a, 17.54, '17.54', '#c84050')

for a in (ax_rsi, ax, ax_m, ax_h, ax_a):
    finish_ticks(a)
finish_ticks(ax_s, gap=6)
for lab in ax_s.get_yticklabels():
    lab.set_fontsize(5)

# ---------------- header ----------------
fig.text(2 / W, 1 - 1 / H, '$SPX', fontsize=7.5, fontweight='bold', family=TXT, va='top')
fig.text(28 / W, 1 - 3 / H, 'S&P 500 Large Cap Index  INDX', fontsize=5.8, family=TXT, va='top')
fig.text(2 / W, 1 - 12 / H, '22-Aug-2025 11:54am', fontsize=6, family=TXT, va='top')
fig.text(1020 / W, 1 - 2 / H, '\u00a9StockCharts.com', fontsize=6, family=TXT, va='top',
         ha='right', color='#555555')
quote = [('Open', True), (' 6384.59 ', False), ('High', True), (' 6478.89 ', False),
         ('Low', True), (' 6384.59 ', False), ('Last', True), (' 6471.68 ', False),
         ('Chg', True), (' +101.51 (+1.59%) \u25b2', False)]
anchor = fig.text(1020 / W, 1 - 20 / H, quote[-1][0], fontsize=6, family=TXT, ha='right',
                  va='baseline')
for s, b in reversed(quote[:-1]):
    anchor = fig.add_artist(Annotation(s, xy=(0, 0), xycoords=anchor, ha='right', va='bottom',
                                       fontsize=6, family=TXT,
                                       fontweight='bold' if b else 'normal'))

fig.savefig('out.png', dpi=100)
